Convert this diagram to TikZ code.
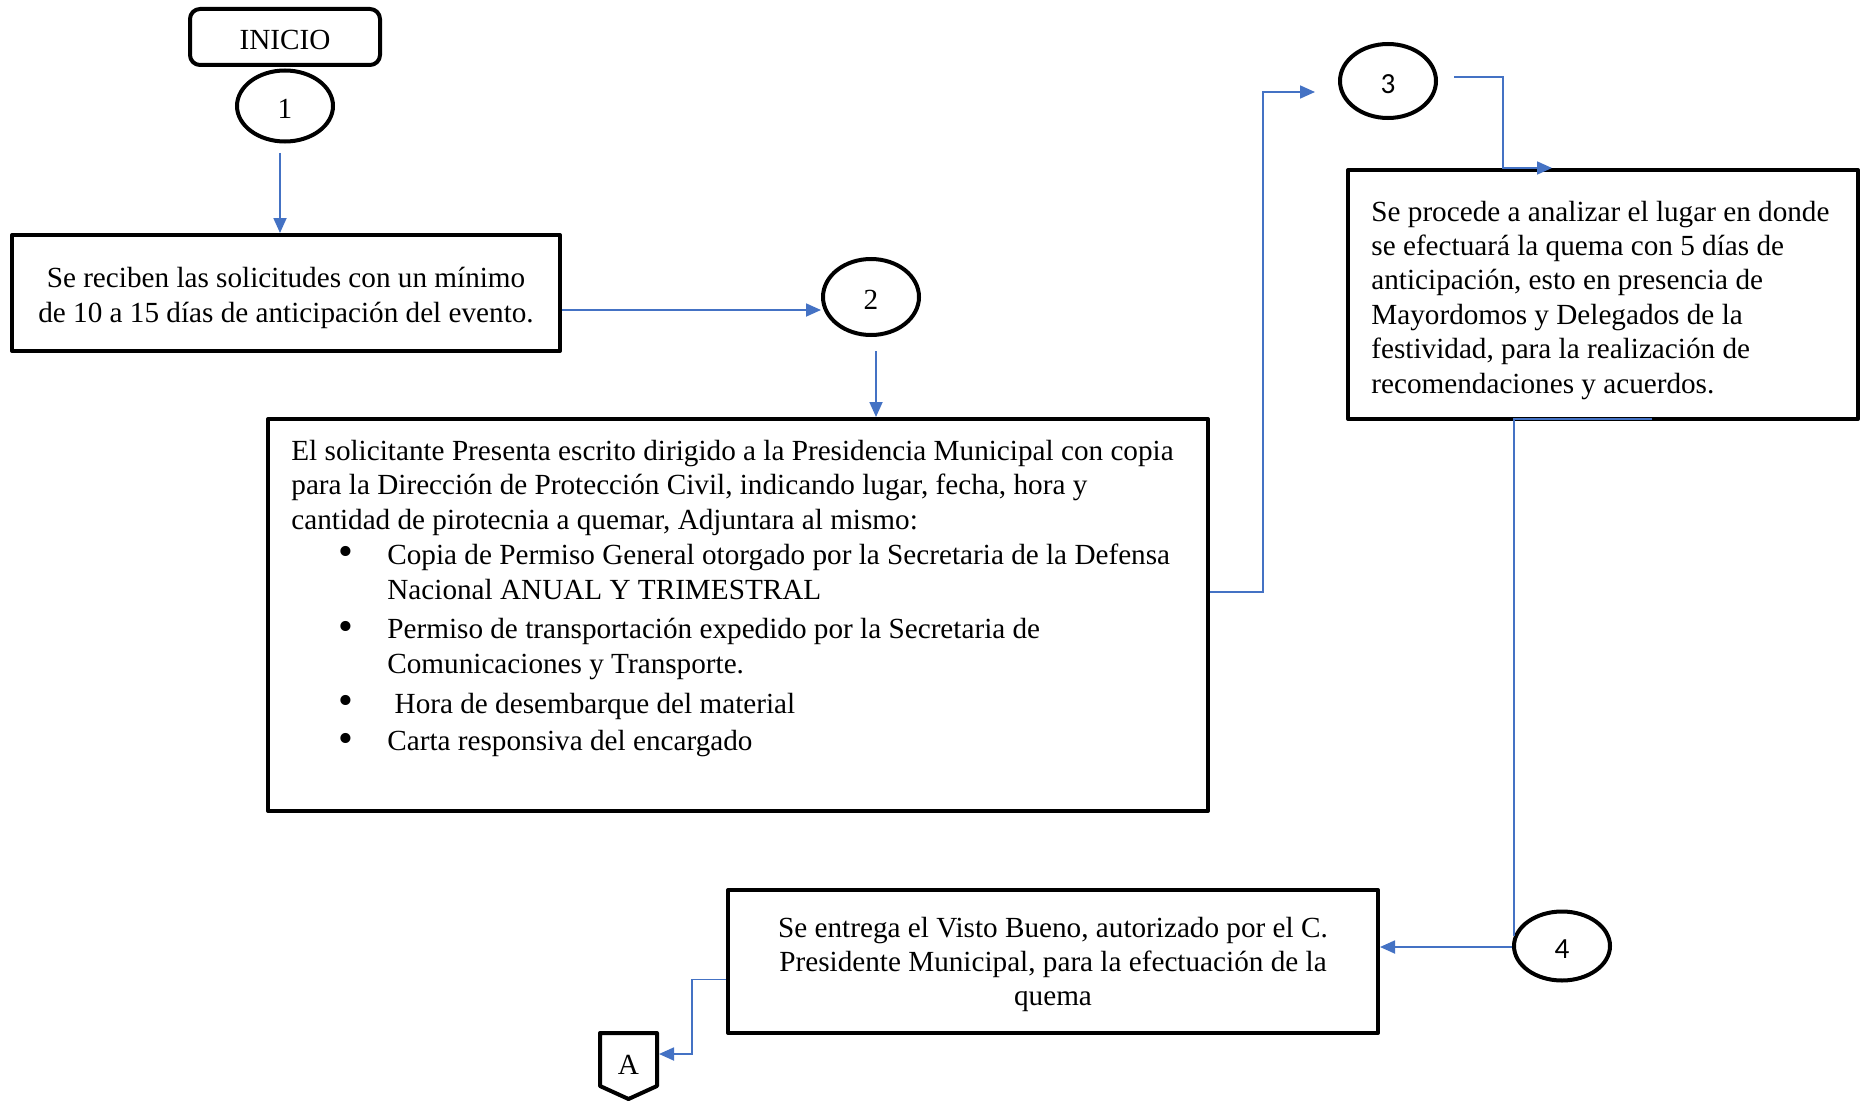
\documentclass[tikz,border=0pt]{standalone}
\usepackage{fontspec}
\setmainfont{Liberation Serif}
\newfontfamily\numfont{Carlito}
\usetikzlibrary{arrows.meta,shapes.geometric}
\definecolor{flowblue}{RGB}{68,114,196}
% bullet line and continuation line of the list in the second box
\newcommand{\itm}{\hspace*{23.5pt}\makebox[24.5pt][l]{\raisebox{-0.6pt}{\scalebox{1.45}{\textbullet}}}}
\newcommand{\itc}{\hspace*{48pt}}

\begin{document}
\begin{tikzpicture}[x=0.5pt,y=-0.5pt,
  txt/.style={font=\fontsize{14.6pt}{17.2pt}\selectfont},
  box/.style={draw=black,line width=2pt,line join=round,inner sep=0pt},
  oval/.style={txt,draw=black,line width=2pt,ellipse,inner sep=0pt,minimum width=48pt,
    text height=12.4pt,text depth=0pt},
  sansnum/.style={font=\numfont\fontsize{14.6pt}{17.2pt}\selectfont},
  conn/.style={draw=flowblue,line width=0.9pt},
  arr/.style={conn,-{Triangle[length=7.5pt,width=6.5pt]}},
  plain/.style={txt,inner sep=0pt,align=left,anchor=north west},
  centred/.style={txt,inner sep=0pt,align=center}]
\useasboundingbox (0,0) rectangle (1863,1102);

% ---- nodes ----
\node[box,txt,rounded corners=5pt,minimum width=95pt,minimum height=28pt,
  text height=13pt,text depth=0pt] (inicio) at (285,37) {INICIO};
\node[oval,minimum height=35.5pt] (c1) at (285,106) {1};

\node[box,minimum width=274pt,minimum height=58pt] (b1) at (286,293) {};
\node[centred] (b1t) at ([yshift=-2.5pt]b1.center)
  {Se reciben las solicitudes con un mínimo\\de 10 a 15 días de anticipación del evento.};

\node[oval,minimum height=38pt] (c2) at (871,297) {2};

\node[box,minimum width=470pt,minimum height=196pt] (b2) at (738,615) {};
\node[plain] (b2t) at ([xshift=12.5pt,yshift=-9.5pt]b2.north west)
  {\strut El solicitante Presenta escrito dirigido a la Presidencia Municipal con copia\\
   para la Dirección de Protección Civil, indicando lugar, fecha, hora y\\
   cantidad de pirotecnia a quemar, Adjuntara al mismo:\\[0.3pt]
   \itm Copia de Permiso General otorgado por la Secretaria de la Defensa\\[0.3pt]
   \itc Nacional ANUAL Y TRIMESTRAL\\[2.6pt]
   \itm Permiso de transportación expedido por la Secretaria de\\[0.3pt]
   \itc Comunicaciones y Transporte.\\[2.6pt]
   \itm{} Hora de desembarque del material\\[1.5pt]
   \itm Carta responsiva del encargado};

\node[oval,sansnum,minimum height=37pt] (c3) at (1388,81) {3};

\node[box,minimum width=255pt,minimum height=124.5pt] (b3) at (1603,294.5) {};
\node[plain] (b3t) at ([xshift=12.5pt,yshift=-14.3pt]b3.north west)
  {\strut Se procede a analizar el lugar en donde\\
   se efectuará la quema con 5 días de\\
   anticipación, esto en presencia de\\
   Mayordomos y Delegados de la\\
   festividad, para la realización de\\
   recomendaciones y acuerdos.};

\node[oval,sansnum,minimum height=34.5pt] (c4) at (1562,946) {4};

\node[box,minimum width=325pt,minimum height=71.5pt] (b4) at (1053,961.5) {};
\node[centred] (b4t) at ([yshift=-1.5pt]b4.center)
  {Se entrega el Visto Bueno, autorizado por el C.\\
   Presidente Municipal, para la efectuación de la\\
   quema};

% off-page connector
\node[txt,inner sep=0pt,outer sep=0pt,minimum width=28.5pt,minimum height=26.5pt,
  text height=14.5pt,text depth=0pt] (offp) at (628.5,1059.5) {A};
\draw[line width=2pt,line join=round] (offp.north west) -- (offp.north east) -- (offp.south east)
  -- ([yshift=-6.5pt]offp.south) -- (offp.south west) -- cycle;

% ---- connectors ----
\coordinate (a1) at ([xshift=-2.5pt,yshift=-4.75pt]c1.south);
\draw[arr] (a1) -- (a1 |- b1.north);

\coordinate (b1o) at ([yshift=-8.5pt]b1.east);
\draw[arr] (b1o) -- (b1o -| c2.west);

\coordinate (c2o) at ([xshift=2.5pt,yshift=-7pt]c2.south);
\draw[arr] (c2o) -- (c2o |- b2.north);

\coordinate (b2o) at ([yshift=11.5pt]b2.east);
\coordinate (c3i) at ([xshift=-11.5pt,yshift=-5.5pt]c3.west);
\draw[arr] (b2o) -- ++(53,0) |- (c3i);

\coordinate (c3o) at ([xshift=8pt,yshift=2pt]c3.east);
\coordinate (b3n) at ([xshift=-25.5pt]b3.north);
\draw[arr] (c3o) -- ++(49,0) |- (b3n);

\coordinate (b3s) at ([xshift=24.5pt,yshift=1pt]b3.south);
\coordinate (c4j) at ([xshift=1pt,yshift=5pt]c4.west);
\draw[conn] (b3s) -| (c4j);

\coordinate (c4w) at ([yshift=-0.5pt]c4.west);
\draw[arr] (c4w) -- (c4w -| b4.east);

\coordinate (b4o) at ([yshift=-9pt]b4.west);
\coordinate (ain) at ([xshift=1pt,yshift=2.75pt]offp.east);
\draw[arr] (b4o) -- ++(-34,0) |- (ain);
\end{tikzpicture}
\end{document}
